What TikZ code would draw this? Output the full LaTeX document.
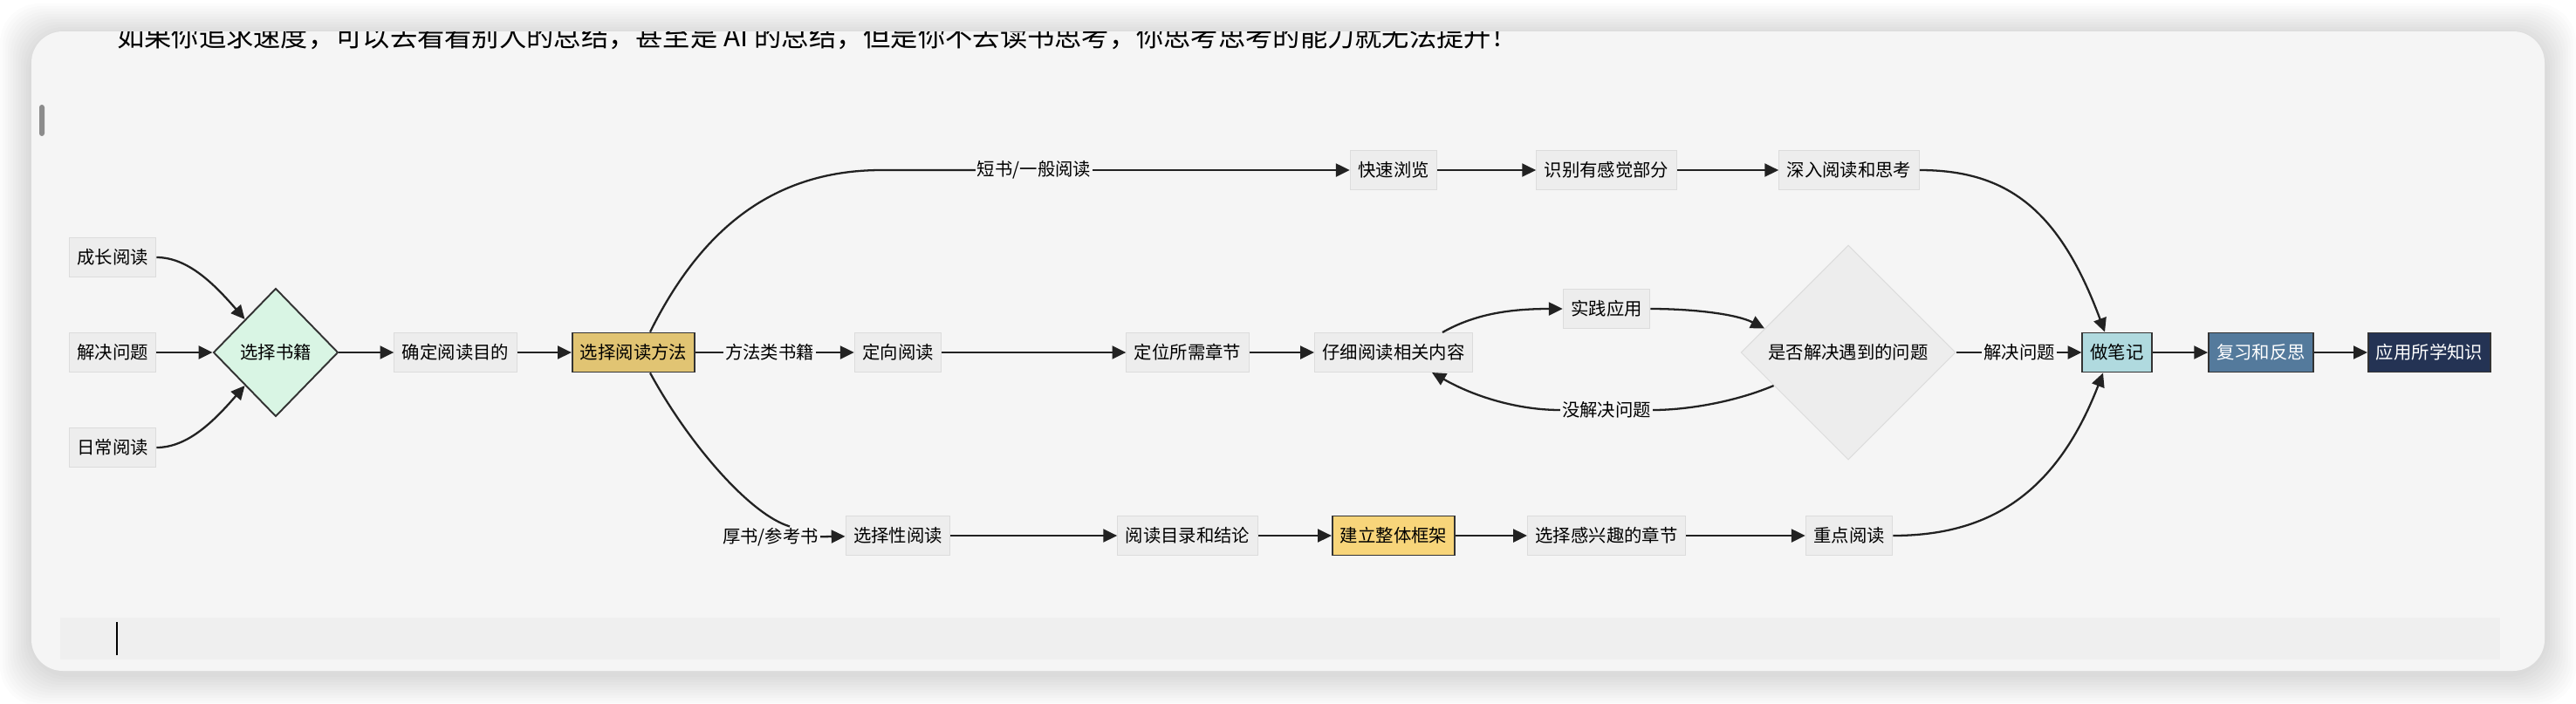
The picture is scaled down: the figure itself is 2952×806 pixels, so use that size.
\documentclass[tikz,border=0pt]{standalone}
\usepackage{fontspec}
\newfontfamily\cjk{Noto Sans CJK SC}
\usepackage{tikz}
\usetikzlibrary{arrows.meta, shapes.geometric, calc}
\definecolor{cardbg}{HTML}{F5F5F5}
\definecolor{boxfill}{HTML}{EDEDED}
\definecolor{boxline}{HTML}{DCDCDC}
\definecolor{linecol}{HTML}{222222}
\definecolor{darkline}{HTML}{333333}
\definecolor{mint}{HTML}{D9F5E4}
\definecolor{methodcol}{HTML}{E1C473}
\definecolor{framecol}{HTML}{F8D57A}
\definecolor{notecol}{HTML}{B0DADF}
\definecolor{reviewcol}{HTML}{547A9C}
\definecolor{applycol}{HTML}{243354}
\definecolor{inputbg}{HTML}{EFEFEF}
\definecolor{scrollcol}{HTML}{8C8C8C}

\begin{document}
\begin{tikzpicture}[x=0.02cm, y=-0.02cm,
    every node/.style={font=\cjk\fontsize{11.6}{14}\selectfont, text=black},
    box/.style={draw=boxline, fill=boxfill, line width=0.6pt, minimum height=0.9cm, inner xsep=0.18cm},
    keybox/.style={box, draw=darkline, line width=1.1pt},
    pick/.style={diamond, draw=darkline, fill=mint, line width=1.1pt, inner sep=0pt, minimum width=2.86cm, minimum height=2.94cm},
    check/.style={diamond, draw=boxline, fill=boxfill, line width=0.6pt, inner sep=0pt, minimum size=4.92cm},
    lbl/.style={fill=cardbg, inner sep=1pt},
    link/.style={line width=1.3pt, draw=linecol},
    flow/.style={link, -{Triangle[length=9pt, width=8.5pt]}},
  ]
    \useasboundingbox (0,0) rectangle (2952,806);

    % Card and shadow
    \foreach \i in {1,...,12}
        \fill[black, opacity=0.012, rounded corners=0.9cm] (36-3*\i, 40-3*\i) rectangle (2916+3*\i, 773+3*\i);
    \fill[cardbg, rounded corners=0.72cm] (36,36) rectangle (2916,769);
    \begin{scope}
        \clip[rounded corners=0.72cm] (36,36) rectangle (2916,769);
        \node[anchor=base west, inner sep=0, font=\cjk\fontsize{17.8}{20}\selectfont] (quote) at (134,53)
            {如果你追求速度，可以去看看别人的总结，甚至是 AI 的总结，但是你不去读书思考，你思考思考的能力就无法提升！};
    \end{scope}
    \fill[scrollcol, rounded corners=0.06cm] (45,120) rectangle (51,156);
    \fill[inputbg] (69,708) rectangle (2865,756);
    \draw[line width=0.6pt] (134,713) -- (134,751);

    % Nodes
    \node[box] (grow) at (129,295) {成长阅读};
    \node[box] (solve) at (129,404) {解决问题};
    \node[box] (daily) at (129,513) {日常阅读};
    \node[pick] (books) at (316,404) {选择书籍};
    \node[box] (goal) at (522,404) {确定阅读目的};
    \node[keybox, fill=methodcol] (method) at (726,404) {选择阅读方法};

    \node[lbl] (lshort) at (1185,195) {短书/一般阅读};
    \node[box] (skim) at (1597,195) {快速浏览};
    \node[box] (spot) at (1841,195) {识别有感觉部分};
    \node[box] (deep) at (2119,195) {深入阅读和思考};

    \node[lbl] (lhow) at (882,404) {方法类书籍};
    \node[box] (aim) at (1029,404) {定向阅读};
    \node[box] (locate) at (1361,404) {定位所需章节};
    \node[box] (careful) at (1597,404) {仔细阅读相关内容};
    \node[box] (practice) at (1841,354) {实践应用};
    \node[check] (solved) at (2118,404) {是否解决遇到的问题};
    \node[lbl] (lno) at (1841,470) {没解决问题};
    \node[lbl] (lyes) at (2314,404) {解决问题};
    \node[keybox, fill=notecol] (notes) at (2426,404) {做笔记};
    \node[keybox, fill=reviewcol, text=white] (review) at (2591,404) {复习和反思};
    \node[keybox, fill=applycol, text=white] (apply) at (2784,404) {应用所学知识};

    \node[lbl] (lthick) at (883,616) {厚书/参考书};
    \node[box] (select) at (1029,614) {选择性阅读};
    \node[box] (toc) at (1361,614) {阅读目录和结论};
    \node[keybox, fill=framecol] (frame) at (1597,614) {建立整体框架};
    \node[box] (interest) at (1841,614) {选择感兴趣的章节};
    \node[box] (focus) at (2119,614) {重点阅读};

    % Inputs
    \draw[flow] (grow.east) .. controls (215,295) and (245,325) .. (books.133);
    \draw[flow] (solve) -- (books);
    \draw[flow] (daily.east) .. controls (215,513) and (245,483) .. (books.227);
    \draw[flow] (books) -- (goal);
    \draw[flow] (goal) -- (method);

    % Short books
    \draw[link] ($(method.north)+(19,0)$) .. controls (800,270) and (880,195) .. (1010,195) -- (lshort.west);
    \draw[flow] (lshort) -- (skim);
    \draw[flow] (skim) -- (spot);
    \draw[flow] (spot) -- (deep);
    \draw[flow] (deep.east) .. controls (2300,195) and (2360,240) .. ($(notes.north)+(-14,0)$);

    % Method books
    \draw[link] (method) -- (lhow);
    \draw[flow] (lhow) -- (aim);
    \draw[flow] (aim) -- (locate);
    \draw[flow] (locate) -- (careful);
    \draw[flow] ($(careful.north)+(56,0)$) .. controls (1690,360) and (1730,354) .. (practice.west);
    \draw[flow] (practice.east) .. controls (1940,354) and (1990,360) .. (solved.164);
    \draw[link] (solved.204) .. controls (1985,462) and (1930,470) .. (lno.east);
    \draw[flow] (lno.west) .. controls (1740,470) and (1690,455) .. ($(careful.south)+(44,0)$);
    \draw[link] (solved) -- (lyes);
    \draw[flow] (lyes) -- (notes);
    \draw[flow] (notes) -- (review);
    \draw[flow] (review) -- (apply);

    % Thick books
    \draw[link] ($(method.south)+(19,0)$) .. controls (790,510) and (860,590) .. ($(lthick.north)+(22,0)$);
    \draw[flow] (lthick) -- (select);
    \draw[flow] (select) -- (toc);
    \draw[flow] (toc) -- (frame);
    \draw[flow] (frame) -- (interest);
    \draw[flow] (interest) -- (focus);
    \draw[flow] (focus.east) .. controls (2275,614) and (2355,570) .. ($(notes.south)+(-16,0)$);
\end{tikzpicture}
\end{document}
